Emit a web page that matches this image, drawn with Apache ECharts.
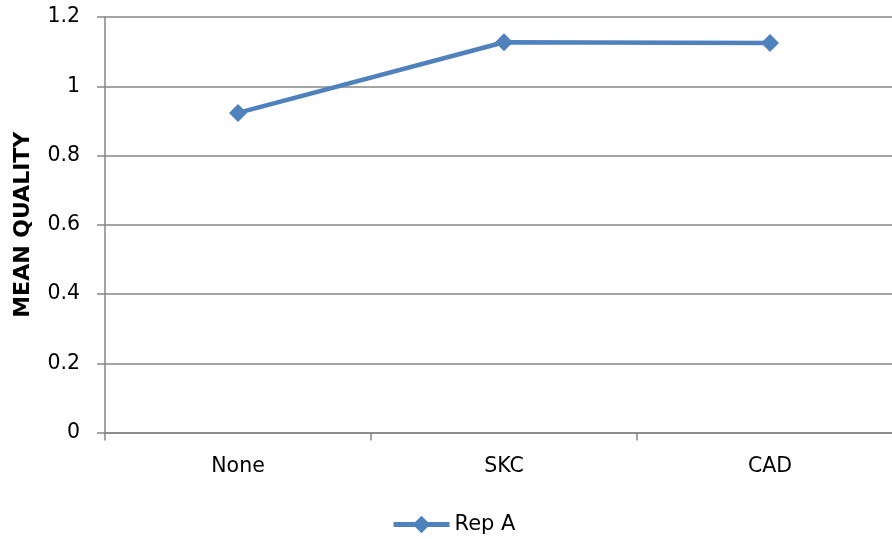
<!DOCTYPE html>
<html>
<head>
<meta charset="utf-8">
<script src="https://cdn.jsdelivr.net/npm/echarts@6/dist/echarts.min.js"></script>
<style>
  html, body { margin: 0; padding: 0; background: #ffffff; }
  #chart { width: 892px; height: 539px; }
</style>
</head>
<body>
<div id="chart"></div>
<script>
// Treatment categories along the x axis
const categories = ['None', 'SKC', 'CAD'];
// Mean quality for replicate A
const repA = [0.923, 1.127, 1.125];
const seriesName = 'Rep A';
const yAxisTitle = 'MEAN QUALITY';

const axisGray = '#868686';
const lineBlue = '#4F81BD';
const fontFamily = 'DejaVu Sans';

const chart = echarts.init(document.getElementById('chart'), null, { renderer: 'canvas' });

chart.setOption({
  animation: false,
  backgroundColor: '#ffffff',
  textStyle: { fontFamily: fontFamily },
  // plot area runs a little past the right edge of the canvas
  grid: { left: 105, width: 798, top: 17, height: 415.5, containLabel: false, outerBoundsMode: 'none' },
  legend: {
    top: 509,
    left: 386,
    itemWidth: 56,
    itemHeight: 22,
    itemGap: 6,
    lineStyle: { width: 5 },
    textStyle: { fontFamily: fontFamily, fontSize: 21, color: '#000000' },
    data: [seriesName]
  },
  xAxis: {
    type: 'category',
    data: categories,
    boundaryGap: true,
    axisLine: { lineStyle: { color: axisGray, width: 1.5 } },
    axisTick: { show: true, length: 8, lineStyle: { color: axisGray, width: 1.5 } },
    axisLabel: { fontFamily: fontFamily, fontSize: 20.5, color: '#000000', margin: 24 },
    splitLine: { show: false }
  },
  yAxis: {
    type: 'value',
    min: 0,
    max: 1.2,
    interval: 0.2,
    name: yAxisTitle,
    nameLocation: 'middle',
    nameRotate: 90,
    nameGap: 71,
    nameTextStyle: { fontFamily: fontFamily, fontSize: 22, fontWeight: 'bold', color: '#000000' },
    axisLine: { show: true, lineStyle: { color: axisGray, width: 1.5 } },
    axisTick: { show: true, length: 8, lineStyle: { color: axisGray, width: 1.5 } },
    axisLabel: {
      fontFamily: fontFamily, fontSize: 20.5, color: '#000000', margin: 25,
      formatter: function (v) { return String(parseFloat(v.toFixed(1))); }
    },
    splitLine: { show: true, lineStyle: { color: axisGray, width: 1.5 } }
  },
  series: [{
    name: seriesName,
    type: 'line',
    data: repA,
    symbol: 'diamond',
    symbolSize: 18,
    lineStyle: { color: lineBlue, width: 4.5 },
    itemStyle: { color: lineBlue },
    emphasis: { disabled: true }
  }]
});
</script>
</body>
</html>
